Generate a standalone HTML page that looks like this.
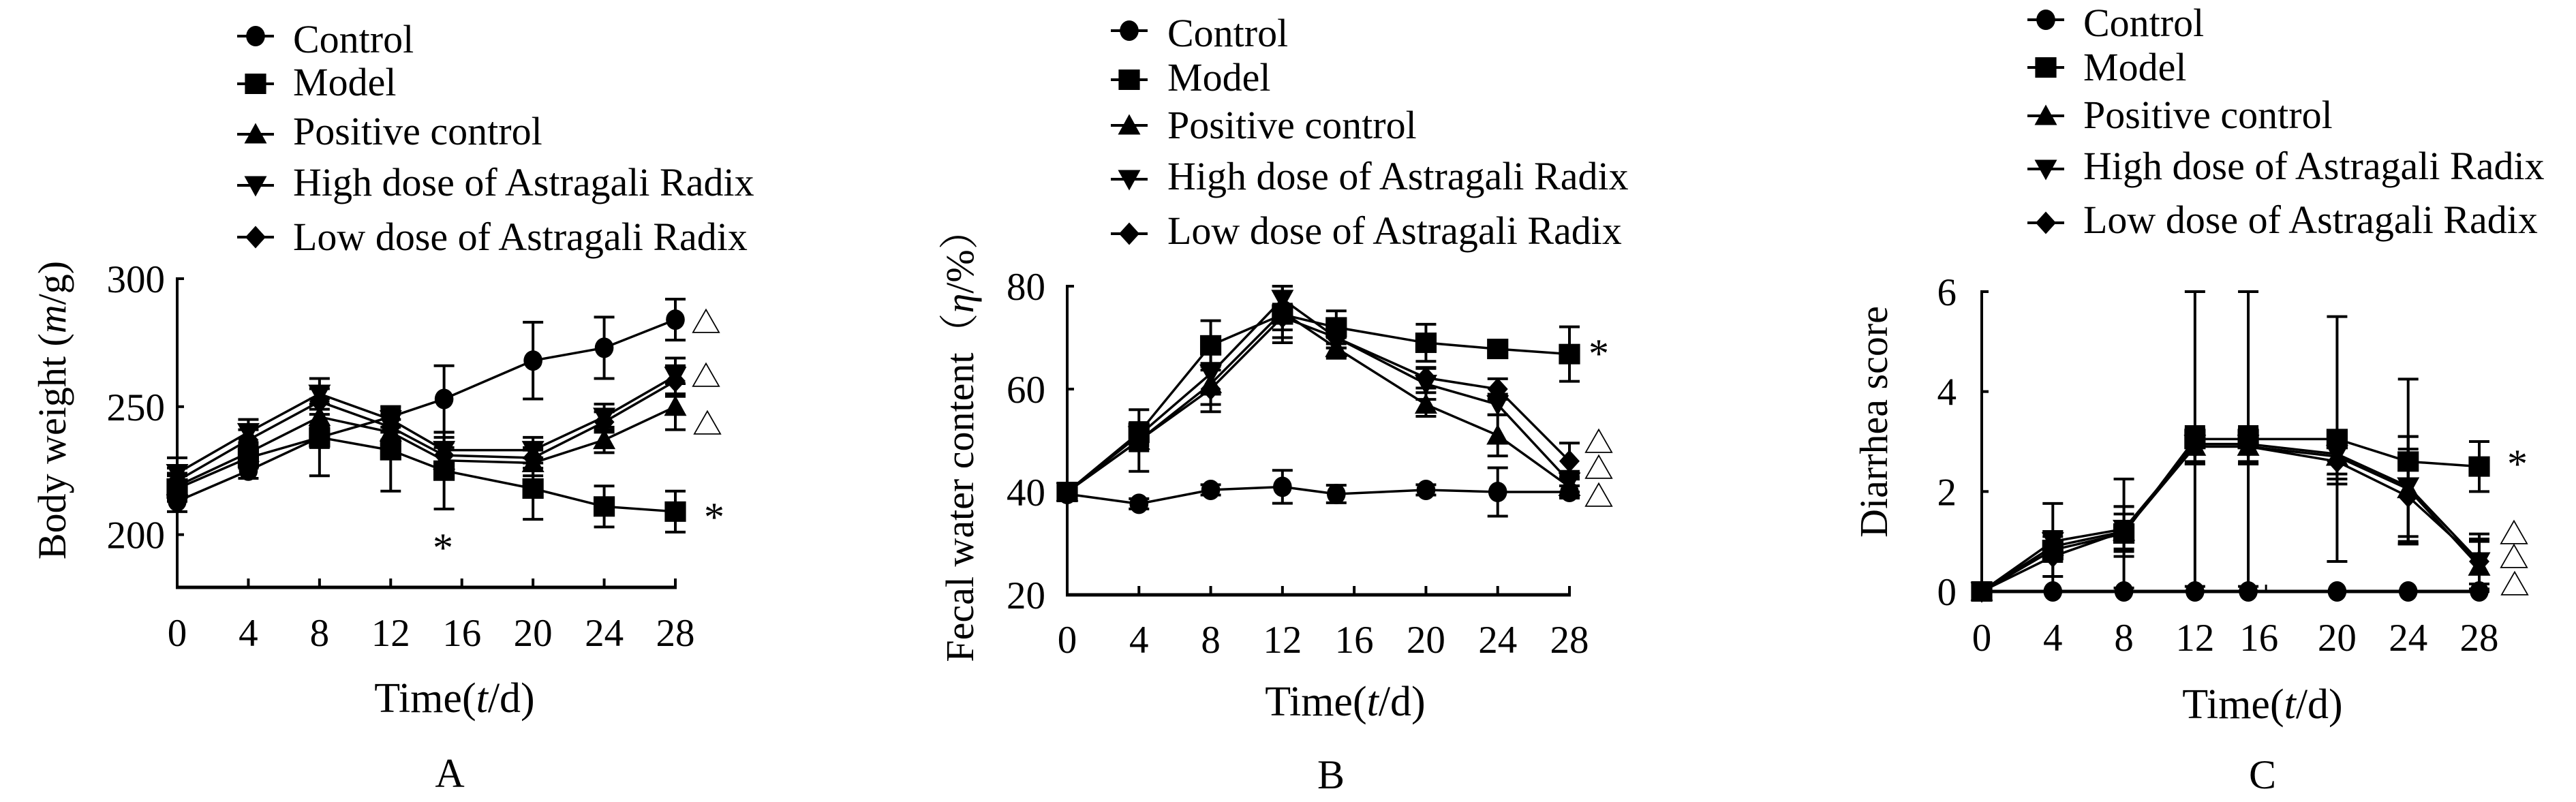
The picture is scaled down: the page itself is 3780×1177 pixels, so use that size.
<!DOCTYPE html>
<html><head><meta charset="utf-8"><style>
html,body{margin:0;padding:0;background:#fff;}
svg{display:block;}
svg text{font-family:"Liberation Serif","Noto Serif CJK SC",serif;}
</style></head><body>
<svg id="fig" width="3780" height="1177" viewBox="0 0 3780 1177" xmlns="http://www.w3.org/2000/svg"></svg>
<script>
// ---- shared ----
const seriesNames = ["Control","Model","Positive control","High dose of Astragali Radix","Low dose of Astragali Radix"];
const seriesMarkers = ["circle","square","tri-up","tri-down","diamond"];
const days = [0,4,8,12,15,20,24,28];
const xTickValues = [0,4,8,12,16,20,24,28];
const xTickLabels = ["0","4","8","12","16","20","24","28"];

// ---- Panel A: body weight ----
const aYTicks = [200,250,300];
const aControl = [213,225,238,246,253,268,273,284];
const aModel = [218,230,238,233,225,218,211,209];
const aPositive = [219,232,246,240,229,228,237,250];
const aHigh = [224,240,255,245,233,233,246,262];
const aLow = [221,237,252,242,231,230,244,260];
const aControlErr = [4,3,4,4,13,15,12,8];
const aModelErr = [5,4,15,16,15,12,8,8];
const aPositiveErr = [5,4,5,5,5,5,5,9];
const aHighErr = [6,5,6,5,5,5,5,7];
const aLowErr = [5,4,5,5,5,4,4,6];

// ---- Panel B: fecal water ----
const bYTicks = [20,40,60,80];
const bControl = [39.6,37.7,40.4,41,39.6,40.4,40,40];
const bModel = [40,51.5,68.5,74.5,72,69,67.8,66.8];
const bPositive = [40,50,61,75,68,57,51,41];
const bHigh = [40,51,63,77.5,70,61,57,42];
const bLow = [40,50,60,74,70,62.2,60,46];
const bControlErr = [1,1,1,3.2,1.7,1,4.7,1.2];
const bModelErr = [1.5,2,4.8,5.5,3.2,3.6,1.5,5.3];
const bPositiveErr = [1.5,6,4,5,2,2.3,4,2];
const bHighErr = [1.5,2,4,2.5,2,3,2,2];
const bLowErr = [1.5,2,4.4,2.5,2,2,2,3.5];

// ---- Panel C: diarrhea score ----
const cYTicks = [0,2,4,6];
const cTickPos = [0,4,8,12,15.6,20,24,28];
const cControl = [0,0,0,0,0,0,0,0];
const cModel = [0,0.83,1.16,3.05,3.05,3.05,2.6,2.5];
const cPositive = [0,0.9,1.2,2.9,2.9,2.7,2.05,0.5];
const cHigh = [0,1.0,1.25,2.95,2.95,2.75,2.1,0.6];
const cLow = [0,0.7,1.2,2.9,2.9,2.6,1.9,0.6];
const cControlErr = [0,0,0,0,0,0,0,0];
const cModelErr = [0,0.93,1.09,2.95,2.95,2.45,1.65,0.5];
const cPositiveErr = [0,0.3,0.5,0.35,0.35,0.45,1.05,0.5];
const cHighErr = [0,0.2,0.45,0.35,0.35,0.4,1.0,0.55];
const cLowErr = [0,0.4,0.35,0.35,0.35,0.45,0.95,0.45];

const NS = "http://www.w3.org/2000/svg";
const svg = document.getElementById("fig");
function mk(tag, attrs, parent){
  const e = document.createElementNS(NS, tag);
  for (const k in attrs) e.setAttribute(k, attrs[k]);
  (parent||svg).appendChild(e);
  return e;
}
function marker(type, cx, cy, s, g){
  let e;
  if (type==="circle") e = mk("ellipse",{cx:cx,cy:cy,rx:s*0.46,ry:s*0.5,fill:"#000"},g);
  else if (type==="square") e = mk("rect",{x:cx-s*0.52,y:cy-s*0.5,width:s*1.04,height:s,fill:"#000"},g);
  else if (type==="tri-up") e = mk("polygon",{points:`${cx},${cy-s*0.55} ${cx+s*0.55},${cy+s*0.45} ${cx-s*0.55},${cy+s*0.45}`,fill:"#000"},g);
  else if (type==="tri-down") e = mk("polygon",{points:`${cx},${cy+s*0.55} ${cx+s*0.55},${cy-s*0.45} ${cx-s*0.55},${cy-s*0.45}`,fill:"#000"},g);
  else e = mk("polygon",{points:`${cx},${cy-s*0.55} ${cx+s*0.5},${cy} ${cx},${cy+s*0.55} ${cx-s*0.5},${cy}`,fill:"#000"},g);
  return e;
}
function text(str, x, y, size, anchor, parent, extra){
  const t = mk("text", Object.assign({x:x,y:y,"font-size":size,"text-anchor":anchor||"start",fill:"#000","font-family":"Liberation Serif, serif"}, extra||{}), parent);
  t.textContent = str;
  return t;
}

function drawPanel(p){
  const g = mk("g",{});
  
  
  const X = d => p.x0 + (d - 0) * (p.x1 - p.x0) / 28;
  const Y = v => p.yb - (v - p.ymin) * (p.yb - p.yt) / (p.ymax - p.ymin);
  // legend
  const lg = mk("g",{},g);
  
  
  for (let i=0;i<5;i++){
    const eg = mk("g",{},lg);
    
    
    const my = p.legY[i];
    mk("line",{x1:p.legX-27,y1:my,x2:p.legX+27,y2:my,stroke:"#000","stroke-width":4},eg);
    marker(seriesMarkers[i], p.legX, my, 30, eg);
    text(seriesNames[i], p.legTX, p.legBase[i], 58, "start", eg);
  }
  // axes
  const ax = mk("g",{},g);
  
  
  mk("line",{x1:p.x0,y1:p.yt-2,x2:p.x0,y2:p.yb+2,stroke:"#000","stroke-width":4},ax);
  mk("line",{x1:p.x0-2,y1:p.yb,x2:p.xEnd,y2:p.yb,stroke:"#000","stroke-width":5},ax);
  p.yTicks.forEach(v=>{
    mk("line",{x1:p.x0,y1:Y(v),x2:p.x0+10,y2:Y(v),stroke:"#000","stroke-width":4},ax);
    const t = text(String(v), p.yLabR, Y(v)+20, 57, "end", ax);
    
    
  });
  p.xTickPos.forEach((d,i)=>{
    if (p.xTickMarks) mk("line",{x1:X(xTickValues[i]),y1:p.yb,x2:X(xTickValues[i]),y2:p.yb-13,stroke:"#000","stroke-width":4},ax);
    const t = text(xTickLabels[i], X(d), p.xLabY, 57, "middle", ax);
    
    
  });
  if (!p.xTickMarks) mk("line",{x1:X(16),y1:p.yb,x2:X(16),y2:p.yb-10,stroke:"#000","stroke-width":3},ax);
  // y title
  const yt = text(p.yTitle[0], 0, 0, 58, "middle", g, {transform:`translate(${p.yTitleX},${p.yTitleY}) rotate(-90)`});
  if (p.yTitle.length>1){
    yt.textContent = "";
    p.yTitle.forEach((part,i)=>{ const ts = mk("tspan", i%2===1?{"font-style":"italic"}:{}, yt); ts.textContent = part; });
  }
  
  
  const xt = text("", p.timeX, p.timeY, 62, "middle", g);
  [["Time(",0],["t",1],["/d)",0]].forEach(a=>{ const ts = mk("tspan", a[1]?{"font-style":"italic"}:{}, xt); ts.textContent=a[0]; });
  
  
  const pl = text(p.letter, p.letterX, p.letterY, 60, "middle", g);
  
  
  // series
  for (let s=0;s<5;s++){
    const sg = mk("g",{},g);
    
    
    const vals = p.series[s], errs = p.errs[s];
    vals.forEach((v,i)=>{
      const e = errs[i]; if (!e) return;
      const x = X(days[i]);
      const top = Math.max(p.ymin, Math.min(p.ymax, v+e)), bot = Math.max(p.ymin, v-e);
      mk("line",{x1:x,y1:Y(top),x2:x,y2:Y(bot),stroke:"#000","stroke-width":4},sg);
      mk("line",{x1:x-15,y1:Y(top),x2:x+15,y2:Y(top),stroke:"#000","stroke-width":4},sg);
      mk("line",{x1:x-15,y1:Y(bot),x2:x+15,y2:Y(bot),stroke:"#000","stroke-width":4},sg);
    });
    const pts = vals.map((v,i)=>`${X(days[i])},${Y(v)}`).join(" ");
    const ln = mk("polyline",{points:pts,fill:"none",stroke:"#000","stroke-width":3.5},sg);
    
    
    vals.forEach((v,i)=>{
      const m = marker(seriesMarkers[s], X(days[i]), Y(v), 30, sg);
      
      
    });
  }
  // annotations
  p.notes.forEach(n=>{
    const star = n[0]==="*";
    const t = text(n[0], n[1], n[2]+(star?22:16), star?60:44, "middle", g);
    
    
  });
}

drawPanel({id:"panel-a", x0:260, x1:991, xEnd:993, yt:409, yb:862, ymin:179.4, ymax:300,
  yTicks:aYTicks, yLabR:242, xTickPos:xTickValues, xTickMarks:true, xLabY:948,
  yTitle:["Body weight (","m","/g)"], yTitleX:96, yTitleY:602,
  timeX:667, timeY:1045, letter:"A", letterX:660, letterY:1155,
  legX:375, legTX:430, legY:[53,123,197,272,348], legBase:[77,140,212,287,367],
  series:[aControl,aModel,aPositive,aHigh,aLow], errs:[aControlErr,aModelErr,aPositiveErr,aHighErr,aLowErr],
  notes:[["△",1036,473],["△",1036,552],["△",1038,622],["*",650,802],["*",1048,757]]});

drawPanel({id:"panel-b", x0:1566, x1:2303, xEnd:2305, yt:420, yb:873, ymin:20, ymax:80,
  yTicks:bYTicks, yLabR:1534, xTickPos:xTickValues, xTickMarks:true, xLabY:958,
  yTitle:["Fecal water content（","η","/%）"], yTitleX:1428, yTitleY:640,
  timeX:1974, timeY:1050, letter:"B", letterX:1953, letterY:1157,
  legX:1657, legTX:1713, legY:[45,117,184,263,343], legBase:[68,133,203,278,358],
  series:[bControl,bModel,bPositive,bHigh,bLow], errs:[bControlErr,bModelErr,bPositiveErr,bHighErr,bLowErr],
  notes:[["△",2346,649],["△",2346,687],["△",2346,728],["*",2346,517]]});

drawPanel({id:"panel-c", x0:2908, x1:3638, xEnd:3652, yt:428, yb:868, ymin:0, ymax:6,
  yTicks:cYTicks, yLabR:2871, xTickPos:cTickPos, xTickMarks:false, xLabY:955,
  yTitle:["Diarrhea score"], yTitleX:2769, yTitleY:619,
  timeX:3320, timeY:1054, letter:"C", letterX:3320, letterY:1157,
  legX:3002, legTX:3057, legY:[29,99,170,248,327], legBase:[53,118,188,263,342],
  series:[cControl,cModel,cPositive,cHigh,cLow], errs:[cControlErr,cModelErr,cPositiveErr,cHighErr,cLowErr],
  notes:[["△",3689,783],["△",3689,818],["△",3690,858],["*",3694,679]]});
</script>
</body></html>
